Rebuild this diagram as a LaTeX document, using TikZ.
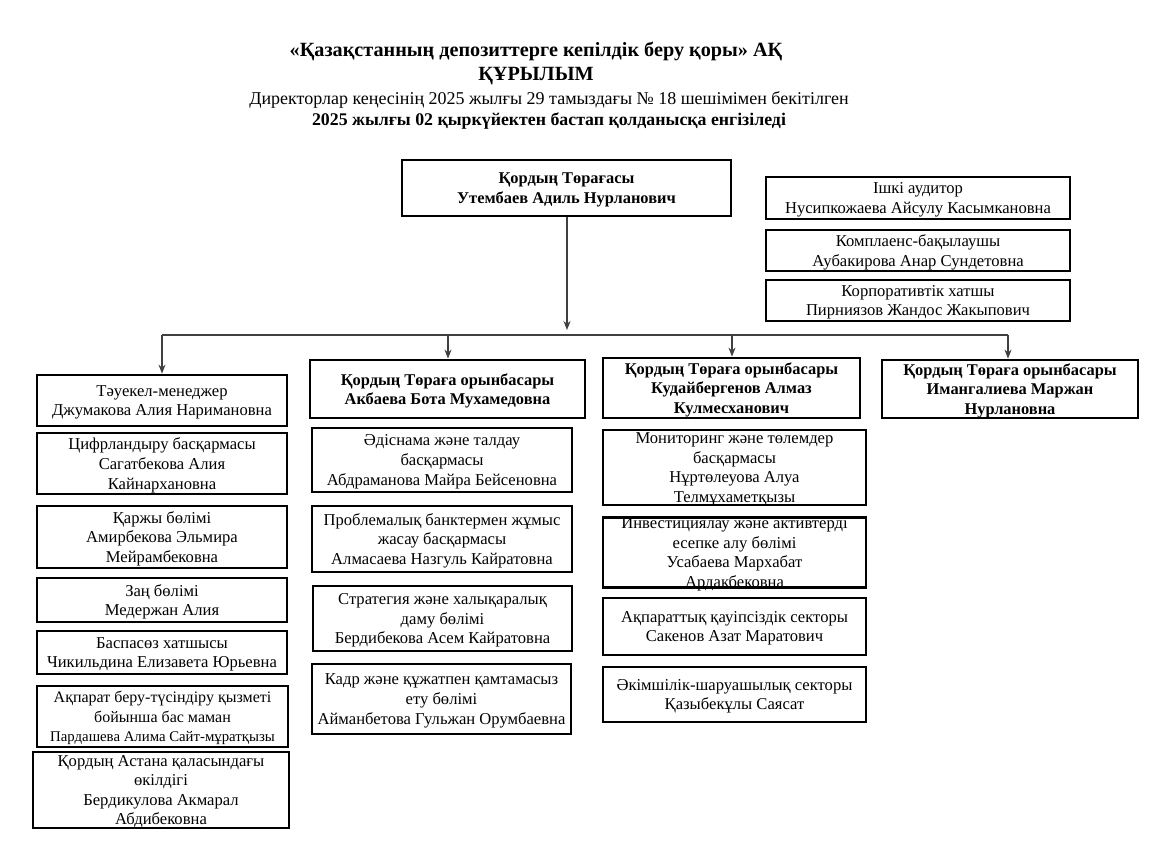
\documentclass[tikz,border=0pt]{standalone}
\usepackage{fontspec}
\setmainfont{Liberation Serif}
\usetikzlibrary{arrows.meta}
\tikzset{
  box/.style={draw=black, line width=2.8pt, align=center, inner sep=0pt,
    text depth=-3.5pt, font=\fontsize{16.6}{19.6}\selectfont},
  bbox/.style={box, font=\fontsize{16.4}{19.6}\selectfont\bfseries},
  link/.style={draw=black!75, line width=1.1pt},
  arr/.style={link, -{Stealth[length=9pt,width=7pt]}},
}
\begin{document}
\begin{tikzpicture}[x=1pt,y=-1pt]
\useasboundingbox (0,0) rectangle (1150,849);
\fill[white] (0,0) rectangle (1150,849);

% titles
\node[font=\fontsize{20.2}{25}\selectfont\bfseries, align=center] (t1) at (536,51) {«Қазақстанның депозиттерге кепілдік беру қоры» АҚ};
\node[font=\fontsize{20.2}{25}\selectfont\bfseries] (t2) at (536,76) {ҚҰРЫЛЫМ};
\node[font=\fontsize{18}{20}\selectfont] (t3) at (549,100) {Директорлар кеңесінің 2025 жылғы 29 тамыздағы № 18 шешімімен бекітілген};
\node[font=\fontsize{17.8}{20}\selectfont\bfseries] (t4) at (549,121) {2025 жылғы 02 қыркүйектен бастап қолданысқа енгізіледі};

% chairman
\node[bbox, minimum width=329pt, minimum height=56pt] (ch) at (566.5,188) {Қордың Төрағасы\\Утембаев Адиль Нурланович};

% right boxes
\node[box, minimum width=304pt, minimum height=42pt] (aud) at (918,198) {Ішкі аудитор\\Нусипкожаева Айсулу Касымкановна};
\node[box, minimum width=304pt, minimum height=41pt] (comp) at (918,250.5) {Комплаенс-бақылаушы\\Аубакирова Анар Сундетовна};
\node[box, minimum width=304pt, minimum height=41pt] (corp) at (918,300.5) {Корпоративтік хатшы\\Пирниязов Жандос Жакыпович};

% column 1
\node[box, minimum width=250pt, minimum height=51pt] (c1a) at (162,400.5) {Тәуекел-менеджер\\Джумакова Алия Наримановна};
\node[box, minimum width=250pt, minimum height=61pt] (c1b) at (162,463.5) {Цифрландыру басқармасы\\Сагатбекова Алия\\Кайнархановна};
\node[box, minimum width=250pt, minimum height=62pt] (c1c) at (162,537) {Қаржы бөлімі\\Амирбекова Эльмира\\Мейрамбековна};
\node[box, minimum width=250pt, minimum height=44pt] (c1d) at (162,600) {Заң бөлімі\\Медержан Алия};
\node[box, minimum width=250pt, minimum height=43pt] (c1e) at (162,652.5) {Баспасөз хатшысы\\Чикильдина Елизавета Юрьевна};
\node[box, minimum width=251pt, minimum height=61pt, font=\fontsize{16}{19.6}\selectfont] (c1f) at (162.5,716.5) {Ақпарат беру-түсіндіру қызметі\\бойынша бас маман\\{\fontsize{14.8}{19.6}\selectfont Пардашева Алима Сайт-мұратқызы}};
\node[box, minimum width=256pt, minimum height=76pt] (c1g) at (161,790) {Қордың Астана қаласындағы\\өкілдігі\\Бердикулова Акмарал\\Абдибековна};

% column 2
\node[bbox, minimum width=275pt, minimum height=58pt] (d2) at (447.5,389) {Қордың Төраға орынбасары\\Акбаева Бота Мухамедовна};
\node[box, minimum width=260pt, minimum height=64pt] (c2a) at (442,460) {Әдіснама және талдау\\басқармасы\\Абдраманова Майра Бейсеновна};
\node[box, minimum width=260pt, minimum height=66pt] (c2b) at (442,539) {Проблемалық банктермен жұмыс\\жасау басқармасы\\Алмасаева Назгуль Кайратовна};
\node[box, minimum width=259pt, minimum height=65pt] (c2c) at (442.5,618.5) {Стратегия және халықаралық\\даму бөлімі\\Бердибекова Асем Кайратовна};
\node[box, minimum width=259pt, minimum height=70pt] (c2d) at (441.5,699) {Кадр және құжатпен қамтамасыз\\ету бөлімі\\Айманбетова Гульжан Орумбаевна};

% column 3
\node[bbox, minimum width=257pt, minimum height=60pt] (d3) at (731.5,388) {Қордың Төраға орынбасары\\Кудайбергенов Алмаз\\Кулмесханович};
\node[box, minimum width=263pt, minimum height=75pt] (c3a) at (734.5,467.5) {Мониторинг және төлемдер\\басқармасы\\Нұртөлеуова Алуа\\Телмұхаметқызы};
\node[box, minimum width=263pt, minimum height=67pt] (c3b) at (734.5,552.5) {Инвестициялау және активтерді\\есепке алу бөлімі\\Усабаева Мархабат\\Ардакбековна};
\node[box, minimum width=263pt, minimum height=57pt] (c3c) at (734.5,626.5) {Ақпараттық қауіпсіздік секторы\\Сакенов Азат Маратович};
\node[box, minimum width=263pt, minimum height=55pt] (c3d) at (734.5,694.5) {Әкімшілік-шаруашылық секторы\\Қазыбекұлы Саясат};

% column 4
\node[bbox, minimum width=256pt, minimum height=58pt] (d4) at (1010,389) {Қордың Төраға орынбасары\\Имангалиева Маржан\\Нурлановна};

% connectors
\coordinate (tip) at (567,330);
\coordinate (bl) at (162,335);
\coordinate (br) at (1008,335);
\draw[arr] (ch.south -| tip) -- (tip);
\draw[link] (bl) -- (br);
\draw[arr] (bl) -- (c1a.north -| bl);
\draw[arr] (448,335) -- (d2.north -| 448,0);
\draw[arr] (732,335) -- (d3.north -| 732,0);
\draw[arr] (br) -- (d4.north -| br);
\end{tikzpicture}
\end{document}
